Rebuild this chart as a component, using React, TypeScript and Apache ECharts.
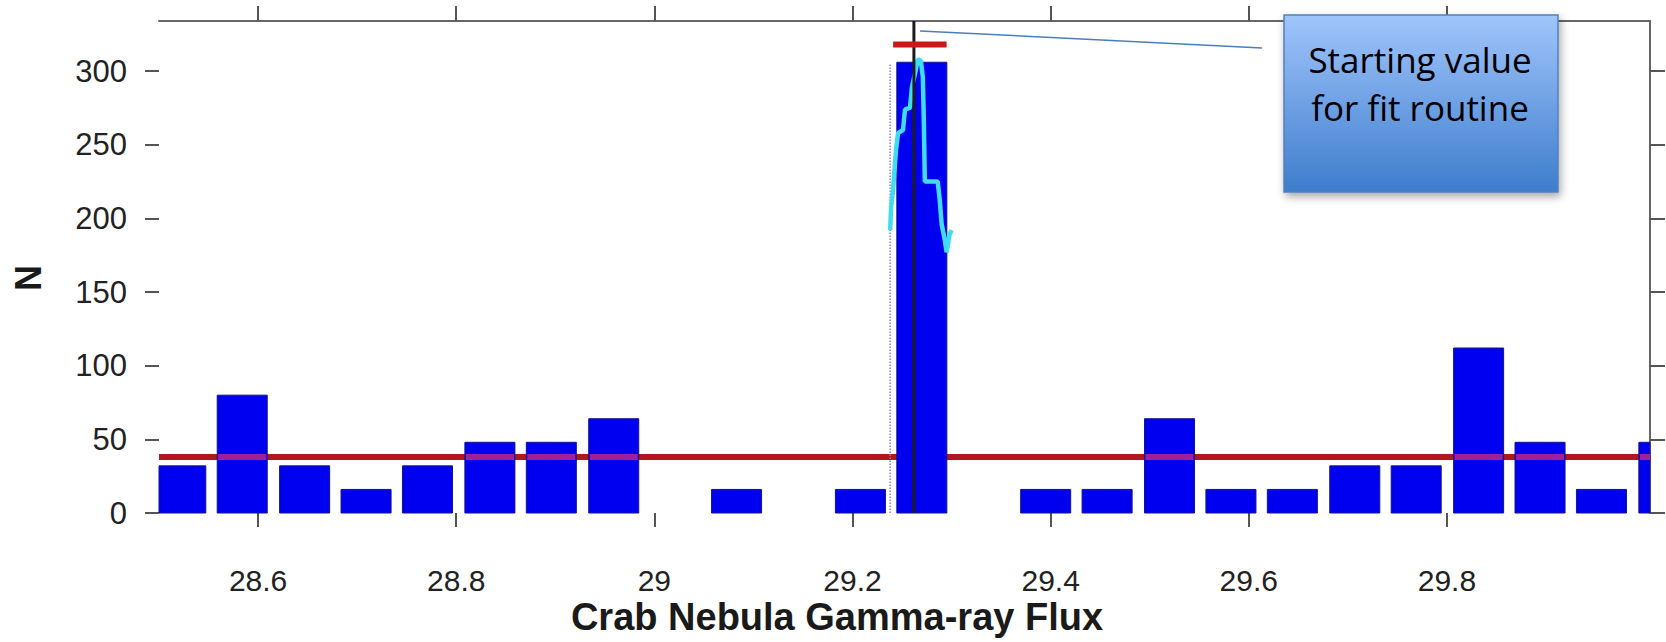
import React, { useEffect, useRef } from "react";
import * as echarts from "echarts";

// ---- data ----
const binCenters = [
  28.522, 28.584, 28.647, 28.709, 28.771, 28.834, 28.896, 28.959, 29.021,
  29.083, 29.146, 29.208, 29.27, 29.333, 29.395, 29.457, 29.52, 29.582,
  29.644, 29.707, 29.769, 29.832, 29.894, 29.956, 30.019,
];
const counts = [
  32, 80, 32, 16, 32, 48, 48, 64, 0, 16, 0, 16, 306, 0, 16, 16, 64, 16, 16, 32,
  32, 112, 48, 16, 48,
];
const binWidth = 0.0505;

const xTicks = [28.6, 28.8, 29.0, 29.2, 29.4, 29.6, 29.8];
const yTicks = [0, 50, 100, 150, 200, 250, 300];

const fitLevel = 38; // red horizontal fit line
const peakLeft = 29.241;
const peakRight = 29.295;
const peakMarkerLevel = 318; // short red bar above the peak
const startValue = 29.262; // black vertical line
const dottedX = 29.238;
const dottedTop = 305;

const cyanX = [
  29.238, 29.239, 29.241, 29.244, 29.246, 29.251, 29.253, 29.258, 29.26,
  29.263, 29.266, 29.269, 29.271, 29.272, 29.273, 29.286, 29.288, 29.29,
  29.293, 29.295, 29.298, 29.3,
];
const cyanY = [
  192, 208, 220, 247, 258, 260, 274, 275, 289, 298, 308, 307, 296, 267, 225,
  225, 213, 196, 186, 177, 189, 192,
];

const xTitle = "Crab Nebula Gamma-ray Flux";
const yTitle = "N";
const calloutText = "Starting value\nfor fit routine";

const X_MIN = 28.5;
const X_MAX = 30.005;
const Y_MIN = 0;
const Y_MAX = 334;

export default function App() {
  const ref = useRef<HTMLDivElement>(null);

  useEffect(() => {
    if (!ref.current) return;
    const chart = echarts.init(ref.current, undefined, { renderer: "svg" });
    const axisFont = "'Liberation Sans', Arial, Helvetica, sans-serif";
    const half = binWidth / 2;
    const barData = binCenters.map((c, i) => [c, counts[i]]);

    const clipTo = (r: any, cs: any) =>
      echarts.graphic.clipRectByRect(r, {
        x: cs.x,
        y: cs.y,
        width: cs.width,
        height: cs.height,
      });

    const option: any = {
      animation: false,
      backgroundColor: "#ffffff",
      grid: { left: 159, top: 21, width: 1491, height: 492, containLabel: false },
      xAxis: [
        {
          type: "value",
          min: X_MIN,
          max: X_MAX,
          position: "bottom",
          axisLine: { show: false, onZero: false },
          splitLine: { show: false },
          axisTick: {
            show: true,
            inside: false,
            length: 14,
            customValues: xTicks,
            lineStyle: { color: "#555", width: 2 },
          },
          axisLabel: {
            show: true,
            customValues: xTicks,
            margin: 52,
            fontSize: 30,
            lineHeight: 30,
            fontFamily: axisFont,
            color: "#222",
            formatter: (v: number) => String(+(+v).toFixed(2)),
          },
        },
        {
          type: "value",
          min: X_MIN,
          max: X_MAX,
          position: "top",
          axisLine: { show: true, onZero: false, lineStyle: { color: "#666", width: 2 } },
          splitLine: { show: false },
          axisTick: {
            show: true,
            inside: false,
            length: 15,
            customValues: xTicks,
            lineStyle: { color: "#555", width: 2 },
          },
          axisLabel: { show: false },
        },
      ],
      yAxis: [
        {
          type: "value",
          min: Y_MIN,
          max: Y_MAX,
          position: "left",
          axisLine: { show: false, onZero: false },
          splitLine: { show: false },
          axisTick: {
            show: true,
            inside: false,
            length: 14,
            customValues: yTicks,
            lineStyle: { color: "#555", width: 2 },
          },
          axisLabel: {
            show: true,
            customValues: yTicks,
            margin: 32,
            fontSize: 31,
            fontFamily: axisFont,
            color: "#222",
          },
        },
        {
          type: "value",
          min: Y_MIN,
          max: Y_MAX,
          position: "right",
          axisLine: { show: true, onZero: false, lineStyle: { color: "#666", width: 2 } },
          splitLine: { show: false },
          axisTick: {
            show: true,
            inside: false,
            length: 15,
            customValues: yTicks,
            lineStyle: { color: "#555", width: 2 },
          },
          axisLabel: { show: false },
        },
      ],
      series: [
        {
          name: "fit-base",
          type: "line",
          z: 1,
          symbol: "none",
          silent: true,
          lineStyle: { color: "#b3161c", width: 6 },
          data: [
            [X_MIN, fitLevel],
            [X_MAX, fitLevel],
          ],
        },
        {
          name: "histogram",
          type: "custom",
          z: 2,
          encode: { x: 0, y: 1 },
          data: barData,
          renderItem: (params: any, api: any) => {
            const c = api.value(0);
            const n = api.value(1);
            if (!n) return null;
            const p0 = api.coord([c - half, n]);
            const p1 = api.coord([c + half, 0]);
            const r = clipTo(
              { x: p0[0], y: p0[1], width: p1[0] - p0[0], height: p1[1] - p0[1] },
              params.coordSys
            );
            if (!r) return null;
            return {
              type: "rect",
              shape: r,
              style: { fill: "#0000f0", stroke: "#14148c", lineWidth: 1 },
            };
          },
        },
        {
          // where the fit line shows through the bars (blended purple)
          name: "fit-through-bars",
          type: "custom",
          z: 3,
          encode: { x: 0, y: 1 },
          data: barData,
          renderItem: (params: any, api: any) => {
            const c = api.value(0);
            const n = api.value(1);
            if (n < fitLevel) return null;
            if (startValue >= c - half && startValue <= c + half) return null;
            const pL = api.coord([c - half, fitLevel]);
            const pR = api.coord([c + half, fitLevel]);
            const r = clipTo(
              { x: pL[0] + 1, y: pL[1] - 3, width: pR[0] - pL[0] - 2, height: 6 },
              params.coordSys
            );
            if (!r) return null;
            return {
              type: "rect",
              shape: r,
              style: { fill: "#a0209c" },
            };
          },
        },
        {
          name: "dotted",
          type: "line",
          z: 3,
          symbol: "none",
          silent: true,
          lineStyle: { color: "#8c7fd6", width: 1.5, type: "dotted" },
          data: [
            [dottedX, 0],
            [dottedX, dottedTop],
          ],
        },
        {
          name: "likelihood",
          type: "line",
          z: 4,
          symbol: "none",
          silent: true,
          lineStyle: { color: "#40dcf4", width: 4.5 },
          data: cyanX.map((x, i) => [x, cyanY[i]]),
        },
        {
          name: "start",
          type: "line",
          z: 5,
          symbol: "none",
          silent: true,
          lineStyle: { color: "#1c1c1c", width: 3 },
          data: [
            [startValue, Y_MIN],
            [startValue, Y_MAX],
          ],
        },
        {
          name: "peak-marker",
          type: "line",
          z: 5,
          symbol: "none",
          silent: true,
          lineStyle: { color: "#c41a1a", width: 6 },
          data: [
            [peakLeft, peakMarkerLevel],
            [peakRight, peakMarkerLevel],
          ],
        },
      ],
      graphic: [
        {
          type: "text",
          x: 837,
          y: 617,
          style: {
            text: xTitle,
            font: `bold 38px ${axisFont}`,
            fill: "#1a1a1a",
            align: "center",
            verticalAlign: "middle",
          },
        },
        {
          type: "text",
          x: 28,
          y: 278,
          rotation: Math.PI / 2,
          style: {
            text: yTitle,
            font: `bold 36px ${axisFont}`,
            fill: "#1a1a1a",
            align: "center",
            verticalAlign: "middle",
          },
        },
        {
          type: "line",
          z: 10,
          shape: { x1: 920, y1: 31, x2: 1262, y2: 48 },
          style: { stroke: "#4a7ec2", lineWidth: 1.5 },
        },
        {
          type: "rect",
          z: 10,
          shape: { x: 1284, y: 15, width: 274, height: 177 },
          style: {
            fill: new echarts.graphic.LinearGradient(0, 0, 0, 1, [
              { offset: 0, color: "#a0c5fb" },
              { offset: 1, color: "#3e7dcd" },
            ]),
            stroke: "#4f81bd",
            lineWidth: 1.5,
            shadowBlur: 8,
            shadowOffsetX: 2,
            shadowOffsetY: 4,
            shadowColor: "rgba(0,0,0,0.35)",
          },
        },
        {
          type: "text",
          z: 11,
          x: 1420,
          y: 83,
          style: {
            text: calloutText,
            font: "35px 'Open Sans', 'Noto Sans', sans-serif",
            lineHeight: 48,
            fill: "#000",
            align: "center",
            verticalAlign: "middle",
          },
        },
      ],
    };

    chart.setOption(option);
    return () => chart.dispose();
  }, []);

  return (
    <div
      ref={ref}
      style={{ position: "absolute", left: 0, top: 0, width: 1666, height: 642 }}
    />
  );
}
